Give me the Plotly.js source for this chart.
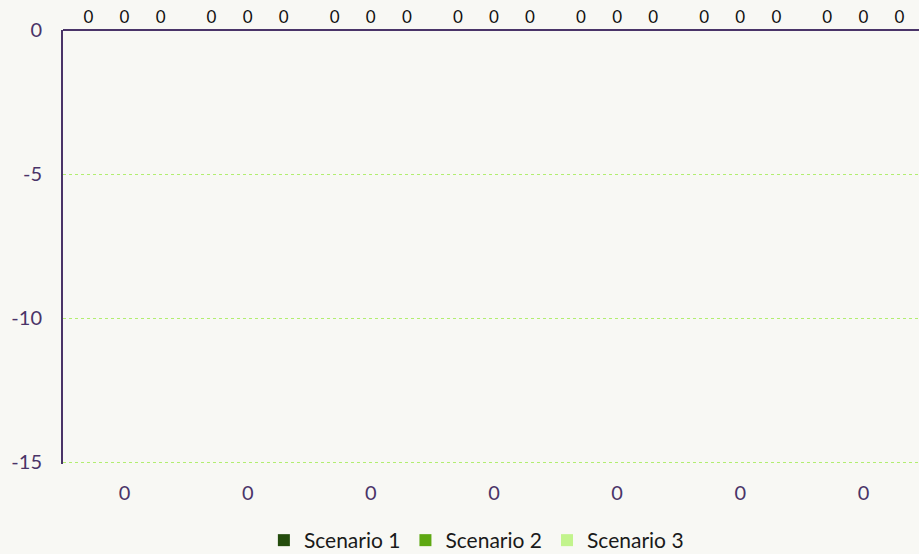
<!DOCTYPE html>
<html>
<head>
<meta charset="utf-8">
<script src="https://cdn.plot.ly/plotly-3.0.1.min.js"></script>
<style>
html,body{margin:0;padding:0;overflow:hidden;background:#f8f8f4;}
#chart{width:925px;height:554px;}
</style>
</head>
<body>
<div id="chart"></div>
<script>
const categories = ["0","0","0","0","0","0","0"];
const seriesNames = ["Scenario 1","Scenario 2","Scenario 3"];
const scenario1 = [0,0,0,0,0,0,0];
const scenario2 = [0,0,0,0,0,0,0];
const scenario3 = [0,0,0,0,0,0,0];
const yTicks = [0,-5,-10,-15];

const colors = ["#244c0c","#5ea812","#c2f48c"];
const xIdx = categories.map((c,i)=>i);
const allSeries = [scenario1, scenario2, scenario3];

const traces = allSeries.map((vals,k)=>({
  type:"bar",
  name: seriesNames[k],
  x: xIdx,
  y: vals,
  marker:{color:colors[k]},
  text: vals.map(v=>String(v)),
  textposition:"outside",
  cliponaxis:false,
  textfont:{family:"Lato, sans-serif", size:17, color:"#111"},
  hoverinfo:"skip"
}));

const layout = {
  width:925, height:554,
  paper_bgcolor:"#f8f8f4",
  plot_bgcolor:"#f8f8f4",
  font:{family:"Lato, sans-serif", color:"#4a3468"},
  margin:{l:63, r:0, t:30, b:90, autoexpand:false},
  barmode:"group",
  bargap:0.12,
  bargroupgap:0,
  showlegend:true,
  legend:{orientation:"h", x:0.515, xref:"container", xanchor:"center",
          y:-0.2235, yref:"paper", yanchor:"bottom",
          font:{size:21, color:"#1a1a1a"}, traceorder:"normal", itemwidth:30},
  xaxis:{
    tickmode:"array", tickvals:xIdx, ticktext:categories,
    range:[-0.5, categories.length-0.5],
    showgrid:false, zeroline:false, showline:false,
    ticks:"", tickfont:{size:20, color:"#4a3468"}, ticklabelstandoff:15
  },
  yaxis:{
    range:[-15.0694,0],
    tickmode:"array", tickvals:yTicks, ticktext:yTicks.map(String),
    showgrid:true, gridcolor:"#b2ee70", griddash:"dot", gridwidth:1,
    zeroline:true, zerolinecolor:"#4a3468", zerolinewidth:2,
    showline:true, linecolor:"#4a3468", linewidth:2,
    ticks:"", tickfont:{size:20, color:"#4a3468"}, ticklabelstandoff:15
  }
};

Plotly.newPlot("chart", traces, layout, {displayModeBar:false, staticPlot:true});
</script>
</body>
</html>
